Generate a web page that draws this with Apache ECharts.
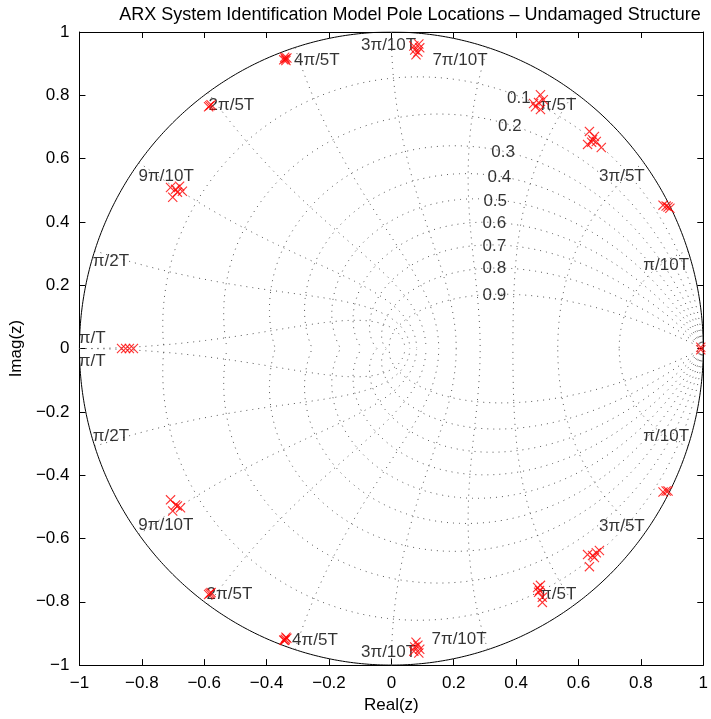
<!DOCTYPE html>
<html><head><meta charset="utf-8">
<script src="https://cdn.jsdelivr.net/npm/echarts@6/dist/echarts.min.js"></script>
<style>html,body{margin:0;padding:0;background:#fff}#c{width:711px;height:719px}</style>
</head><body><div id="c"></div>
<script>
// ---------- data ----------
const titleText = 'ARX System Identification Model Pole Locations \u2013 Undamaged Structure';
const xAxisName = 'Real(z)';
const yAxisName = 'Imag(z)';
const axisMin = -1, axisMax = 1, axisStep = 0.2;

// zgrid: damping ratios and natural frequencies (multiples of pi/10 T)
const zetaValues = [0.1, 0.2, 0.3, 0.4, 0.5, 0.6, 0.7, 0.8, 0.9];
const wnMultiples = [1, 2, 3, 4, 5, 6, 7, 8, 9, 10];

// identified poles
const poleRe = [
  0.072, 0.085, 0.091, 0.079, 0.088, 0.075,
  0.478, 0.462, 0.478, 0.472, 0.487, 0.456,
  0.635, 0.629, 0.657, 0.673, 0.645, 0.651, 0.642,
  0.871, 0.893, 0.881, 0.887,
  0.992, 0.992,
  -0.340, -0.335, -0.345, -0.338, -0.342,
  -0.582, -0.578, -0.586,
  -0.701, -0.679, -0.670, -0.708, -0.692, -0.686,
  -0.865, -0.852, -0.840, -0.827,
  0.072, 0.085, 0.091, 0.079, 0.088, 0.075,
  0.469, 0.478, 0.472, 0.484, 0.484, 0.475,
  0.629, 0.667, 0.651, 0.635, 0.657, 0.645,
  0.871, 0.887, 0.881,
  -0.340, -0.335, -0.345, -0.338, -0.342,
  -0.582, -0.578, -0.586,
  -0.708, -0.686, -0.701, -0.676, -0.692
];
const poleIm = [
  0.956, 0.937, 0.950, 0.928, 0.962, 0.943,
  0.802, 0.764, 0.755, 0.777, 0.786, 0.774,
  0.686, 0.645, 0.654, 0.635, 0.660, 0.670, 0.652,
  0.453, 0.443, 0.450, 0.447,
  0.004, -0.004,
  0.915, 0.918, 0.912, 0.910, 0.920,
  0.767, 0.770, 0.764,
  0.478, 0.513, 0.497, 0.509, 0.503, 0.494,
  0, 0, 0, 0,
  -0.956, -0.937, -0.950, -0.928, -0.962, -0.943,
  -0.755, -0.748, -0.770, -0.802, -0.786, -0.764,
  -0.651, -0.638, -0.660, -0.689, -0.645, -0.654,
  -0.453, -0.450, -0.450,
  -0.918, -0.915, -0.921, -0.912, -0.922,
  -0.774, -0.771, -0.777,
  -0.478, -0.497, -0.513, -0.503, -0.494
];

// natural-frequency labels
const wnLabelText = ['\u03c0/10T','3\u03c0/5T','\u03c0/5T','7\u03c0/10T','3\u03c0/10T','4\u03c0/5T','2\u03c0/5T','9\u03c0/10T','\u03c0/2T','\u03c0/T',
                     '\u03c0/10T','3\u03c0/5T','\u03c0/5T','7\u03c0/10T','3\u03c0/10T','4\u03c0/5T','2\u03c0/5T','9\u03c0/10T','\u03c0/2T','\u03c0/T'];
const wnLabelX = [0.881, 0.739, 0.535, 0.220, -0.009, -0.239, -0.513, -0.722, -0.899, -0.959,
                  0.881, 0.739, 0.535, 0.217, -0.009, -0.245, -0.519, -0.723, -0.899, -0.959];
const wnLabelY = [0.264, 0.544, 0.767, 0.909, 0.959, 0.909, 0.767, 0.544, 0.277, 0.033,
                  -0.277, -0.560, -0.777, -0.918, -0.959, -0.921, -0.777, -0.557, -0.277, -0.040];

// damping labels
const zetaLabelText = ['0.1','0.2','0.3','0.4','0.5','0.6','0.7','0.8','0.9'];
const zetaLabelX = [0.409, 0.380, 0.358, 0.346, 0.333, 0.330, 0.330, 0.330, 0.330];
const zetaLabelY = [0.792, 0.701, 0.619, 0.541, 0.465, 0.396, 0.324, 0.252, 0.167];

// ---------- grid construction ----------
const FONT = '"Liberation Sans", Arial, Helvetica, sans-serif';
const N = 200;
const gridStyle = {type: [1, 5], width: 1, color: '#555'};
const series = [];

function addCurve(pts, style) {
  series.push({type: 'line', data: pts, showSymbol: false, symbol: 'none', silent: true,
    lineStyle: style, z: 1, animation: false, clip: true});
}

// unit circle
const circ = [];
for (let j = 0; j <= 720; j++) { const a = 2 * Math.PI * j / 720; circ.push([Math.cos(a), Math.sin(a)]); }
addCurve(circ, {type: 'solid', width: 1, color: '#000'});

// constant damping spirals
zetaValues.forEach(z => {
  const m = z / Math.sqrt(1 - z * z);
  const up = [], dn = [];
  for (let j = 0; j <= N; j++) {
    const th = Math.PI * j / N, r = Math.exp(-m * th);
    up.push([r * Math.cos(th), r * Math.sin(th)]);
    dn.push([r * Math.cos(th), -r * Math.sin(th)]);
  }
  addCurve(up, gridStyle); addCurve(dn, gridStyle);
});

// constant natural frequency curves
wnMultiples.forEach(k => {
  const wn = k * Math.PI / 10;
  const up = [], dn = [];
  for (let j = 0; j <= N; j++) {
    const zt = Math.sin(Math.PI / 2 * j / N);
    const r = Math.exp(-wn * zt), a = wn * Math.sqrt(Math.max(0, 1 - zt * zt));
    up.push([r * Math.cos(a), r * Math.sin(a)]);
    dn.push([r * Math.cos(a), -r * Math.sin(a)]);
  }
  addCurve(up, gridStyle); addCurve(dn, gridStyle);
});

// labels
const labelData = [];
wnLabelText.forEach((t, i) => labelData.push({name: t, value: [wnLabelX[i], wnLabelY[i]]}));
zetaLabelText.forEach((t, i) => labelData.push({name: t, value: [zetaLabelX[i], zetaLabelY[i]]}));
series.push({type: 'scatter', data: labelData, symbolSize: 1, silent: true, z: 3,
  itemStyle: {color: 'rgba(0,0,0,0)'},
  label: {show: true, position: 'inside', formatter: p => p.name, color: '#000',
    textBorderWidth: 0, fontSize: 17, fontFamily: FONT, align: 'center', verticalAlign: 'middle'}});

// poles
const poles = poleRe.map((x, i) => [x, poleIm[i]]);
series.push({type: 'scatter', data: poles, z: 4, silent: true,
  symbol: 'path://M0,0.8L0.8,0L5,4.2L9.2,0L10,0.8L5.8,5L10,9.2L9.2,10L5,5.8L0.8,10L0,9.2L4.2,5Z',
  symbolSize: 10, itemStyle: {color: '#ff0000'}});

// ---------- axes ----------
const fmt = v => { const s = String(Math.round(v * 10) / 10); return s.replace('-', '\u2212'); };
const axisLine = {onZero: false, lineStyle: {color: '#000', width: 1}};
const tick = {inside: true, length: 6, lineStyle: {color: '#000'}};
function mkAxis(pos, withLabel, name, gap) {
  const a = {type: 'value', min: axisMin, max: axisMax, interval: axisStep, position: pos,
    axisLine: axisLine, axisTick: tick, splitLine: {show: false},
    axisLabel: {show: withLabel, formatter: fmt, color: '#000', fontSize: 17, fontFamily: FONT, margin: 10}};
  if (name) {
    a.name = name; a.nameLocation = 'middle'; a.nameGap = gap;
    a.nameTextStyle = {color: '#000', fontSize: 17, fontFamily: FONT};
  }
  return a;
}

const chart = echarts.init(document.getElementById('c'), null, {renderer: 'canvas'});
chart.setOption({
  animation: false,
  backgroundColor: '#fff',
  title: {text: titleText, left: 405, top: 1, textAlign: 'center',
    textStyle: {fontSize: 18, fontWeight: 'normal', color: '#000', fontFamily: FONT}},
  grid: {left: 75, right: 1, top: 32, bottom: 51},
  xAxis: [mkAxis('bottom', true, xAxisName, 31), mkAxis('top', false)],
  yAxis: [mkAxis('left', true, yAxisName, 52), mkAxis('right', false)],
  series: series
});
</script></body></html>
